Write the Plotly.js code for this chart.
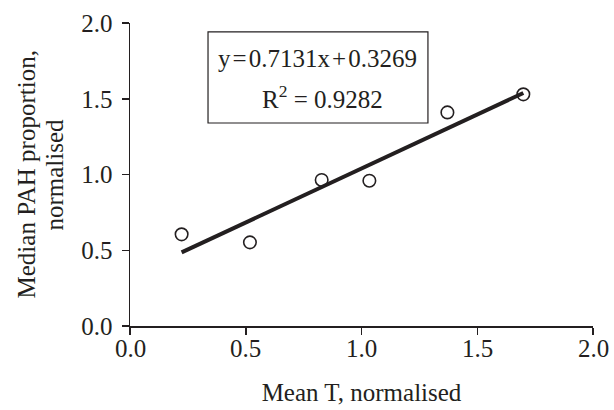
<!DOCTYPE html>
<html>
<head>
<meta charset="utf-8">
<script src="https://cdn.plot.ly/plotly-3.0.1.min.js"></script>
<style>html,body{margin:0;padding:0;background:#fff;}#chart{width:614px;height:410px;}</style>
</head>
<body>
<div id="chart"></div>
<script>
// Data
const meanT = [0.223, 0.518, 0.828, 1.034, 1.371, 1.699];
const medianPAH = [0.605, 0.552, 0.964, 0.959, 1.410, 1.529];
// Linear trend line end points (y = 0.7131x + 0.3269)
const trendX = [0.223, 1.699];
const trendY = [0.486, 1.538];
const tickVals = [0, 0.5, 1.0, 1.5, 2.0];
const tickText = ["0.0", "0.5", "1.0", "1.5", "2.0"];
const equationText = "y\u200A=\u200A0.7131x\u200A+\u200A0.3269";
const r2Text = "R<sup>2</sup> = 0.9282";

const FONT = "Liberation Serif, Times New Roman, serif";
const INK = "#231f20";

const traces = [
  {
    x: trendX, y: trendY, type: "scatter", mode: "lines",
    line: {color: INK, width: 4}, hoverinfo: "skip", showlegend: false
  },
  {
    x: meanT, y: medianPAH, type: "scatter", mode: "markers",
    marker: {symbol: "circle-open", size: 12.5, color: INK, line: {color: INK, width: 1.6}},
    showlegend: false
  }
];

const axisCommon = {
  range: [0, 2], tickvals: tickVals, ticktext: tickText,
  showgrid: false, zeroline: false, showline: true,
  linecolor: INK, linewidth: 1.5, ticks: "outside", ticklen: 7,
  tickwidth: 1.5, tickcolor: INK,
  tickfont: {family: FONT, size: 25, color: INK}
};

// x tick labels placed as annotations so they can sit closer to the axis
const xTickLabels = tickVals.map((v, i) => ({
  xref: "x", yref: "paper", x: v, y: -0.0759, xanchor: "center", yanchor: "middle",
  text: tickText[i], showarrow: false, font: {family: FONT, size: 25, color: INK}
}));

const layout = {
  width: 614, height: 410,
  margin: {l: 130, r: 21, t: 23, b: 84},
  paper_bgcolor: "#fff", plot_bgcolor: "#fff",
  font: {family: FONT, color: INK, size: 25},
  xaxis: Object.assign({}, axisCommon, {
    showticklabels: false,
    title: {text: "Mean T, normalised", font: {family: FONT, size: 25, color: INK}, standoff: 50}
  }),
  yaxis: Object.assign({}, axisCommon, {ticklabelstandoff: 4}),
  shapes: [{
    type: "rect", xref: "x", yref: "y",
    x0: 0.337, x1: 1.287, y0: 1.340, y1: 1.941,
    line: {color: INK, width: 1.2}, fillcolor: "rgba(0,0,0,0)"
  }],
  annotations: xTickLabels.concat([
    {xref: "x", yref: "y", x: 0.808, y: 1.769, text: equationText, showarrow: false,
     font: {family: FONT, size: 25, color: INK}},
    {xref: "x", yref: "y", x: 0.832, y: 1.512, text: r2Text, showarrow: false,
     font: {family: FONT, size: 25, color: INK}},
    {xref: "paper", yref: "paper", x: -0.2225, y: 0.5, xanchor: "center", yanchor: "middle",
     text: "Median PAH proportion,", textangle: -90, showarrow: false,
     font: {family: FONT, size: 25, color: INK}},
    {xref: "paper", yref: "paper", x: -0.162, y: 0.5, xanchor: "center", yanchor: "middle",
     text: "normalised", textangle: -90, showarrow: false,
     font: {family: FONT, size: 25, color: INK}}
  ])
};

Plotly.newPlot("chart", traces, layout, {displayModeBar: false, staticPlot: true});
</script>
</body>
</html>
